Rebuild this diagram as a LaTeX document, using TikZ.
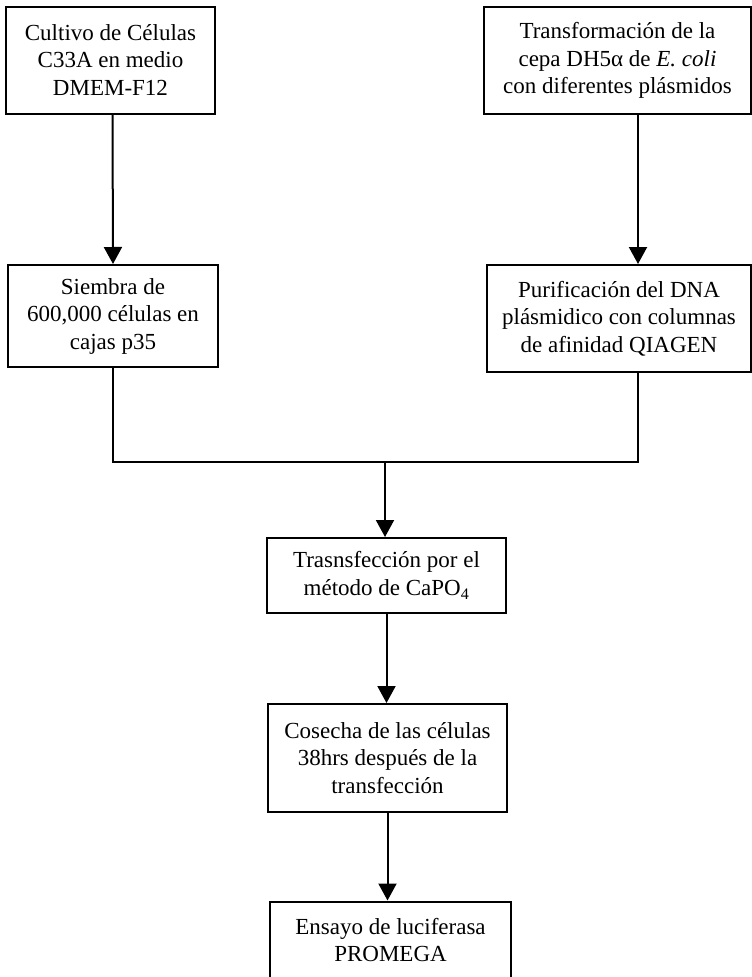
\documentclass[tikz,border=0pt]{standalone}
\usepackage{fontspec}
\setmainfont{Liberation Serif}
\usepackage{tikz}
\usetikzlibrary{arrows.meta}
\usetikzlibrary{calc}

\tikzset{
    paso/.style={draw, line width=2pt, align=center, inner sep=0pt, font=\fontsize{23}{27.5}\selectfont},
    linea/.style={line width=2pt},
    flecha/.style={line width=2pt, -{Triangle[width=18pt,length=17pt]}}
}

\begin{document}
\begin{tikzpicture}[x=1pt, y=-1pt]
                \useasboundingbox (0,0) rectangle (752,977);
                \node[paso, minimum width=209pt, minimum height=107pt] (cultivo) at (110.5,60) {Cultivo de Células\\C33A en medio\\DMEM-F12};
                \node[paso, minimum width=267pt, minimum height=107pt] (transf) at (617.5,60.5) {Transformación de la\\cepa DH5α de \textit{E. coli}\\con diferentes plásmidos};
                \node[paso, minimum width=210pt, minimum height=102pt] (siembra) at (113,316) {Siembra de\\600,000 células en\\cajas p35};
                \node[paso, minimum width=264pt, minimum height=107pt] (purif) at (619,318.5) {Purificación del DNA\\plásmidico con columnas\\de afinidad QIAGEN};
                \node[paso, minimum width=239pt, minimum height=75pt] (trans) at (386.5,575.5) {Trasnsfección por el\\método de CaPO\textsubscript{4}};
                \node[paso, minimum width=239pt, minimum height=108pt] (cosecha) at (387.5,758) {Cosecha de las células\\38hrs después de la\\transfección};
                \node[paso, minimum width=241pt, minimum height=77pt] (ensayo) at (390.5,940) {Ensayo de luciferasa\\PROMEGA};
                \coordinate (union) at (385,462);
                \draw[flecha] ([xshift=2pt]cultivo.south) -- (siembra.north);
                \draw[flecha] ([xshift=20.5pt]transf.south) -- ([xshift=19pt]purif.north);
                \draw[linea] (siembra.south) |- (union) -| ([xshift=19pt]purif.south);
                \draw[flecha] (union) -- (union |- trans.north);
                \draw[flecha] (trans.south) -- (trans.south |- cosecha.north);
                \draw[flecha] (cosecha.south) -- (cosecha.south |- ensayo.north);
            \end{tikzpicture}
\end{document}
